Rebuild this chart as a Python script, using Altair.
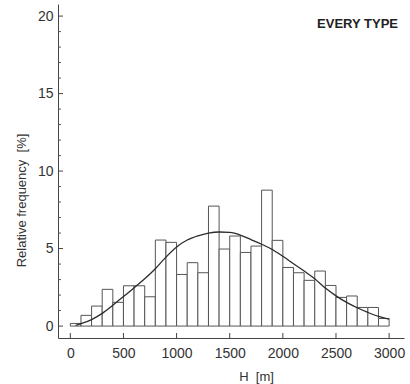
import altair as alt
import pandas as pd

# Relative frequency (%) per 100 m height class, 0-3000 m
bin_start = list(range(0, 3000, 100))
freq = [0.17, 0.69, 1.29, 2.37, 1.53, 2.60, 2.60, 1.89, 5.55, 5.40,
        3.33, 4.09, 3.44, 7.74, 4.97, 5.81, 4.75, 5.16, 8.77, 5.53,
        3.78, 3.44, 2.95, 3.55, 2.62, 1.85, 1.94, 1.20, 1.20, 0.49]

# Fitted distribution curve
curve_h = [50, 100, 200, 300, 400, 500, 600, 700, 800, 900, 1000, 1100,
           1200, 1300, 1400, 1500, 1600, 1700, 1800, 1900, 2000, 2100,
           2200, 2300, 2400, 2500, 2600, 2700, 2800, 2900, 3000]
curve_f = [0.05, 0.15, 0.42, 0.82, 1.35, 1.90, 2.47, 3.05, 3.70, 4.45,
           5.10, 5.55, 5.82, 6.00, 6.07, 6.04, 5.87, 5.58, 5.28, 4.94,
           4.50, 4.02, 3.55, 3.05, 2.45, 1.95, 1.53, 1.18, 0.88, 0.62, 0.45]

x_ticks = [0, 500, 1000, 1500, 2000, 2500, 3000]
y_major = [0, 5, 10, 15, 20]
y_minor = [v for v in range(0, 21) if v % 5 != 0]

W, H = 346, 334
FONT = "Liberation Sans"
INK = "#333333"

bars = pd.DataFrame({"h0": bin_start, "h1": [b + 100 for b in bin_start], "f": freq})
curve = pd.DataFrame({"h": curve_h, "f": curve_f})

xs = alt.Scale(domain=[-116, 3140], nice=False, zero=False)
ys = alt.Scale(domain=[-0.77, 20.78], nice=False, zero=False)

x_axis = alt.Axis(values=x_ticks, format="d", ticks=False, tickSize=0, grid=False,
                  labelFont=FONT, labelFontSize=14, labelColor=INK, labelPadding=8,
                  domainColor="#444444", title="H\u00a0\u00a0[m]", titleFont=FONT,
                  titleFontSize=13, titleFontWeight="normal", titleColor=INK,
                  titleX=198, titleY=42, titleBaseline="alphabetic", titleAlign="center")
y_axis = alt.Axis(values=y_major, format="d", ticks=False, tickSize=0, grid=False,
                  labelFont=FONT, labelFontSize=14, labelColor=INK, labelPadding=5,
                  domainColor="#444444", title="Relative frequency\u00a0\u00a0[%]", titleFont=FONT,
                  titleFontSize=13, titleFontWeight="normal", titleColor=INK,
                  titleX=-37, titleY=196, titleAlign="center", titleBaseline="middle",
                  titleAngle=270)

hist = alt.Chart(bars).mark_rect(fill="white", stroke="#555555", strokeWidth=1).encode(
    x=alt.X("h0:Q", scale=xs, axis=x_axis),
    x2="h1:Q",
    y=alt.Y("f:Q", scale=ys, axis=y_axis),
    y2=alt.datum(0),
)

line = alt.Chart(curve).mark_line(color="#2b2b2b", strokeWidth=1.3, interpolate="monotone").encode(
    x=alt.X("h:Q", scale=xs),
    y=alt.Y("f:Q", scale=ys),
)

# inward-pointing ticks
xt = alt.Chart(pd.DataFrame({"v": x_ticks})).mark_rule(color="#444444", strokeWidth=1).encode(
    x=alt.X("v:Q", scale=xs), y=alt.value(H - 5), y2=alt.value(H))
yt_major = alt.Chart(pd.DataFrame({"v": y_major})).mark_rule(color="#444444", strokeWidth=1).encode(
    y=alt.Y("v:Q", scale=ys), x=alt.value(0), x2=alt.value(5))
yt_minor = alt.Chart(pd.DataFrame({"v": y_minor})).mark_rule(color="#555555", strokeWidth=1).encode(
    y=alt.Y("v:Q", scale=ys), x=alt.value(0), x2=alt.value(3))

label = alt.Chart(pd.DataFrame({"t": ["EVERY TYPE"]})).mark_text(
    font=FONT, fontSize=13, fontWeight="bold", color="#222222",
    align="right", baseline="alphabetic").encode(
    text="t:N", x=alt.value(340), y=alt.value(24))

chart = alt.layer(hist, line, xt, yt_major, yt_minor, label).properties(
    width=W, height=H,
    autosize=alt.AutoSizeParams(type="none"),
    padding={"left": 58, "top": 4, "right": 6, "bottom": 46},
    background="white",
).configure_view(stroke=None)

chart.save("out.html", embed_options={"renderer": "svg", "actions": False})
